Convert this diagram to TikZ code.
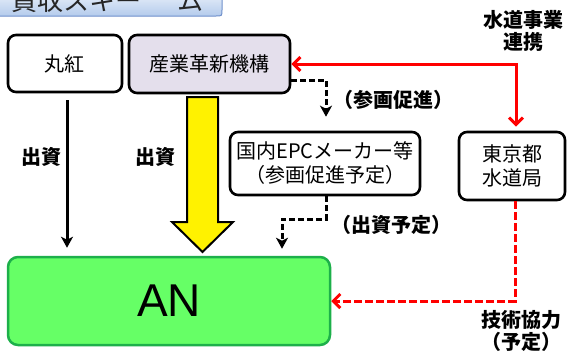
\documentclass[tikz,border=0pt]{standalone}
\usepackage{fontspec}
\setmainfont{Noto Sans CJK JP}
\newfontfamily\latinsans{Liberation Sans}
\usetikzlibrary{arrows.meta,calc}
\definecolor{lav}{HTML}{E4DFEC}
\definecolor{lgreen}{HTML}{66FF66}
\definecolor{agreen}{HTML}{1DB04A}
\definecolor{ttop}{HTML}{E3ECF8}
\definecolor{tbot}{HTML}{B4CBEC}
\definecolor{tedge}{HTML}{6E8FCB}
\definecolor{tred}{HTML}{FF0000}
\tikzset{rtip/.tip={Straight Barb[length=7pt,width=14pt]}}
\begin{document}
\begin{tikzpicture}[x=1pt,y=-1pt,
  box/.style={draw=black, line width=2.6pt, rounded corners=8pt, align=center,
    font=\fontsize{20}{24}\selectfont, inner sep=0pt},
  lbl/.style={font=\fontsize{20}{22}\selectfont\bfseries, align=center, inner sep=0pt},
  blk/.style={line width=3pt, -{Stealth[length=11pt,width=12pt,inset=3pt]}},
  redl/.style={draw=tred, line width=3pt},
  dsh/.style={dash pattern=on 6pt off 3pt},
  rdsh/.style={dash pattern=on 8pt off 3pt}
]
\useasboundingbox (0,0) rectangle (568,351);
\fill[white] (0,0) rectangle (568,351);
\begin{scope}
\clip (0,0) rectangle (568,351);
\path[top color=ttop, bottom color=tbot, draw=tedge, line width=1pt]
  (-3,-5) -- (222,-5) -- (222,10) .. controls (222,16) .. (216,16) -- (-3,16) -- cycle;
\node[anchor=base west, inner sep=0pt, font=\fontsize{26}{28}\selectfont, text=black!85] (title) at (11,10.5) {買収スキー\hspace{1.4em}ム};
\end{scope}

\node[box, fill=white, minimum width=114pt, minimum height=57pt] (maru) at (65,63.5) {丸紅};
\node[box, fill=lav, minimum width=161pt, minimum height=58pt] (sangyo) at (209.5,64) {産業革新機構};
\node[box, fill=white, minimum width=190pt, minimum height=63pt] (epc) at (325,163.5) {国内EPCメーカー等\\（参画促進予定）};
\node[box, fill=white, minimum width=106pt, minimum height=68pt] (tokyo) at (512,166) {東京都\\水道局};
\node[draw=agreen, fill=lgreen, line width=2.5pt, rounded corners=10pt, minimum width=322pt, minimum height=88pt, inner sep=0pt,
  font=\latinsans\fontsize{46}{50}\selectfont] (an) at (169,301) {AN};

% yellow big arrow
\coordinate (ya) at (202.5,97);
\coordinate (yb) at (202.5,252);
\filldraw[fill=yellow, draw=black, line width=2pt, line join=miter]
  ($(ya)+(-15.5,0)$) -- ($(ya)+(15.5,0)$) -- ($(yb)+(15.5,-30)$) -- ($(yb)+(30.5,-30)$)
  -- (yb) -- ($(yb)+(-30.5,-30)$) -- ($(yb)+(-15.5,-30)$) -- cycle;

% black solid arrow
\draw[blk, shorten <=7pt, shorten >=8pt] ([xshift=2pt]maru.south) -- ([xshift=2pt]maru.south |- an.north);

% black dashed arrows
\draw[blk, dsh] ([yshift=-16pt]sangyo.east) -| ([xshift=1pt,yshift=14pt]epc.north);
\coordinate (d2) at ($(an.north)+(113,-7)$);
\draw[blk, dsh] ([xshift=1pt]epc.south) -- ++(0,23) -| (d2);

% red arrows
\draw[redl, {rtip}-{rtip}, shorten >=4pt] (sangyo.east) -| ([xshift=4pt]tokyo.north);
\draw[redl, rdsh, -{rtip}] ([xshift=3pt]tokyo.south) |- (an.east);

% labels
\node[lbl] (l1) at (41,157) {出資};
\node[lbl] (l2) at (155,157) {出資};
\node[lbl] (l3) at (393,100) {（参画促進）};
\node[lbl] (l4) at (391,225) {（出資予定）};
\node[lbl] (l5) at (523,31) {水道事業\\連携};
\node[lbl] (l6) at (521,331) {技術協力\\（予定）};
\end{tikzpicture}
\end{document}
